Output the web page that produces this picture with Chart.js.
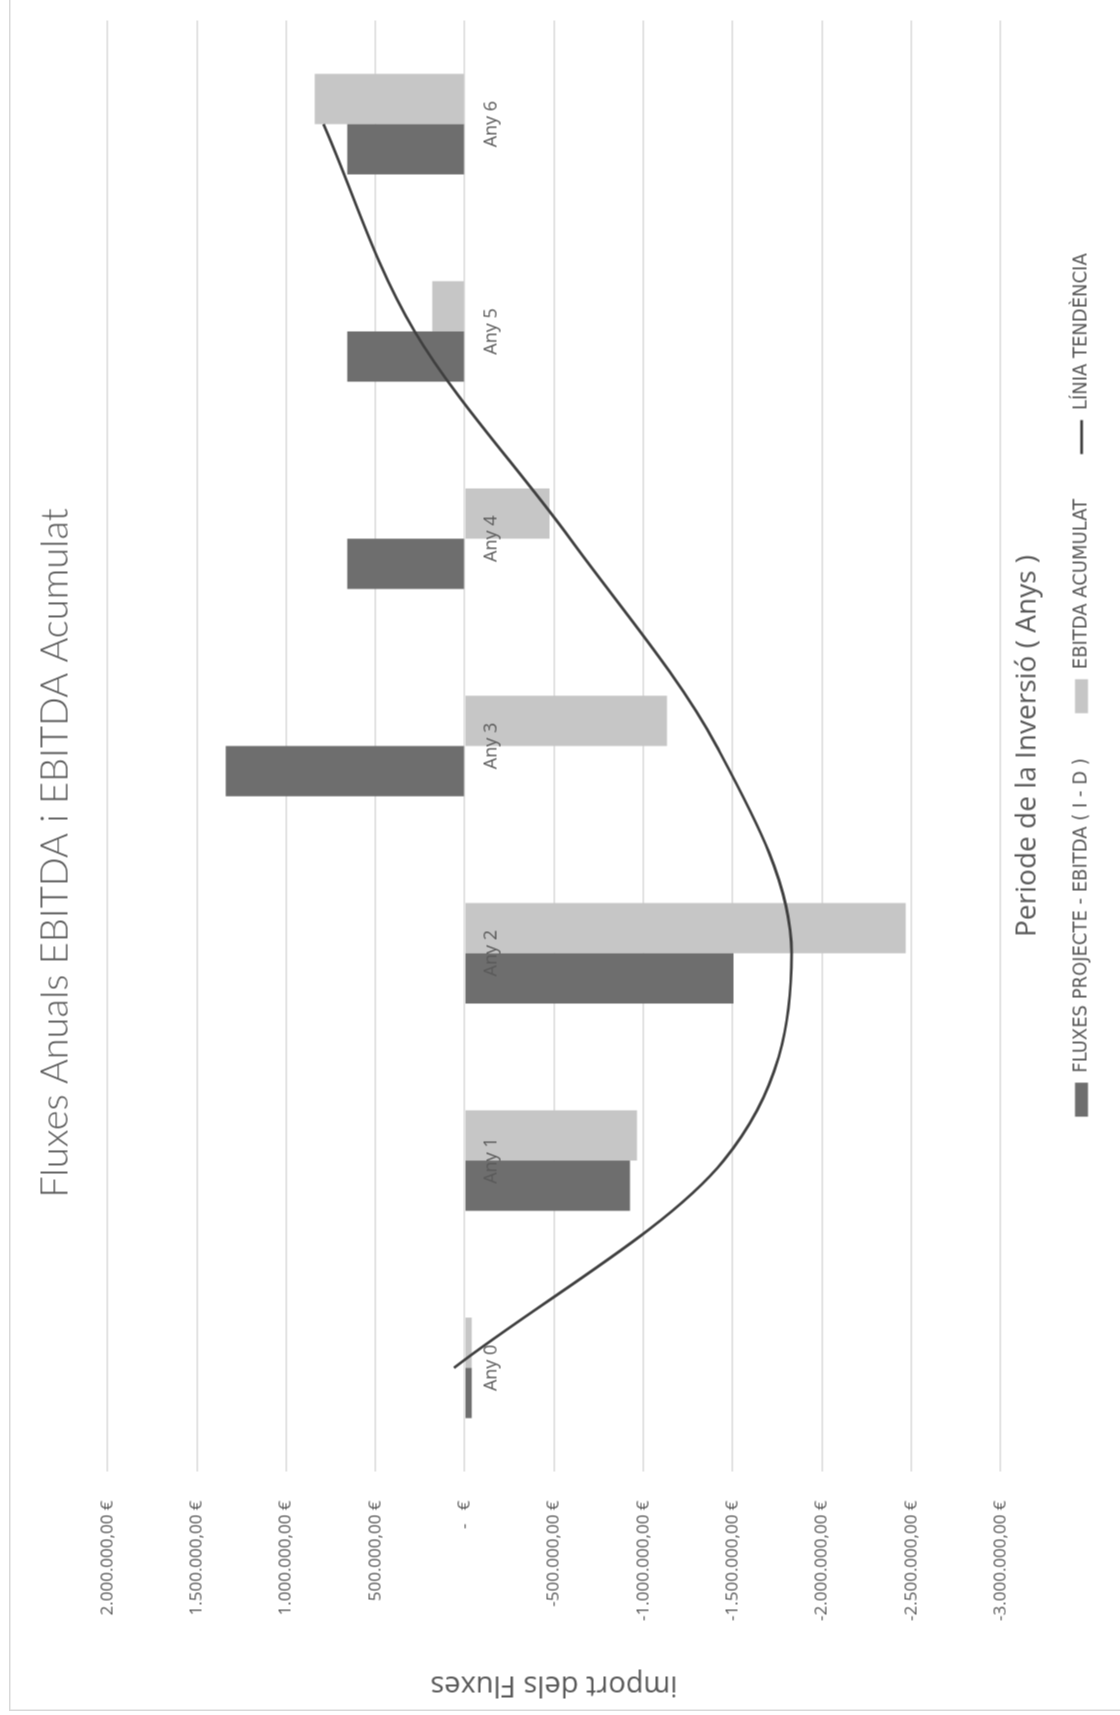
<!DOCTYPE html>
<html lang="ca">
<head>
<meta charset="utf-8">
<title>Fluxes Anuals EBITDA i EBITDA Acumulat</title>
<script src="https://cdn.jsdelivr.net/npm/chart.js@4/dist/chart.umd.min.js"></script>
<style>
  html, body { margin: 0; padding: 0; background: #fff; width: 1120px; height: 1715px; overflow: hidden; }
  /* the chart is laid out landscape and turned a quarter turn counter-clockwise */
  #frame { position: absolute; left: -297.5px; top: 297.5px; width: 1715px; height: 1120px;
           transform: rotate(-90deg); transform-origin: 50% 50%; background: #fff; }
  #frame canvas { position: absolute; left: 0; top: 0; }
  #edge { position: absolute; left: 4px; top: 8px; right: -20px; bottom: -20px;
          border-left: 2px solid #d9d9d9; border-top: 2px solid #d9d9d9; pointer-events: none; }
</style>
</head>
<body>
<div id="frame">
  <canvas id="chart" width="1715" height="1120"></canvas>
  <div id="edge"></div>
</div>
<script>
// Years of the investment period
const categories = ['Any 0', 'Any 1', 'Any 2', 'Any 3', 'Any 4', 'Any 5', 'Any 6'];

// Yearly project flows (I - D) and accumulated EBITDA, in euros
const fluxesProjecte = [-40000, -925000, -1505000, 1338000, 657000, 657000, 657000];
const ebitdaAcumulat = [-40000, -965000, -2470000, -1132000, -475000, 182000, 840000];

// Trend line of the accumulated EBITDA at each year
const trendValues = [60000, -1450000, -1830000, -1410000, -590000, 280000, 790000];

// Value axis range
const axisMin = -3000000;
const axisMax = 2000000;
const axisStep = 500000;

const TEXT = '#595959';
const SANS = "'Open Sans', 'Segoe UI', sans-serif";
const NARROW = "'Liberation Sans Narrow', 'DejaVu Sans Condensed', sans-serif";

function euro(v) {
  if (v === 0) return '-   €';
  const parts = Math.abs(v).toFixed(2).split('.');
  const whole = parts[0].replace(/\B(?=(\d{3})+(?!\d))/g, '.');
  return (v < 0 ? '-' : '') + whole + ',' + parts[1] + ' €';
}

// moves the legend row along the bottom edge
const legendShift = {
  id: 'legendShift',
  afterLayout(chart, args, opts) {
    const lg = chart.legend;
    if (!lg) return;
    lg.left += opts.dx;
    lg.right += opts.dx;
  }
};

new Chart(document.getElementById('chart'), {
  data: {
    labels: categories,
    datasets: [
      {
        type: 'bar',
        label: 'FLUXES PROJECTE - EBITDA ( I - D )',
        data: fluxesProjecte,
        backgroundColor: '#6e6e6e',
        borderWidth: 0,
        pointStyle: 'rect',
        categoryPercentage: 0.485,
        barPercentage: 1,
        order: 1
      },
      {
        type: 'bar',
        label: 'EBITDA ACUMULAT',
        data: ebitdaAcumulat,
        backgroundColor: '#c6c6c6',
        borderWidth: 0,
        pointStyle: 'rect',
        categoryPercentage: 0.485,
        barPercentage: 1,
        order: 1
      },
      {
        type: 'line',
        label: 'LÍNIA TENDÈNCIA',
        data: trendValues,
        borderColor: '#3f3f3f',
        backgroundColor: '#3f3f3f',
        borderWidth: 2.75,
        pointRadius: 0,
        pointStyle: 'line',
        cubicInterpolationMode: 'monotone',
        fill: false,
        order: 0
      }
    ]
  },
  options: {
    responsive: false,
    maintainAspectRatio: false,
    animation: false,
    events: [],
    layout: { padding: { top: 10, left: 30, right: 20, bottom: 19 } },
    scales: {
      // year names written just under the zero line
      x: {
        type: 'category',
        offset: true,
        position: { y: 0 },
        grid: { display: false, drawTicks: false },
        border: { display: false },
        ticks: {
          z: 1,
          color: TEXT,
          font: { family: SANS, size: 18 },
          padding: 16,
          maxRotation: 0,
          autoSkip: false
        }
      },
      y: {
        type: 'linear',
        min: axisMin,
        max: axisMax,
        ticks: { stepSize: axisStep, callback: euro, color: TEXT, font: { family: SANS, size: 17 }, padding: 29 },
        grid: { color: '#d9d9d9', lineWidth: 1.5, drawTicks: false },
        border: { display: false },
        title: {
          display: true,
          text: 'import dels Fluxes',
          color: TEXT,
          font: { family: SANS, size: 29 },
          padding: { top: -16.4, bottom: 0 }
        },
        afterFit(scale) { scale.width = 214; }
      }
    },
    plugins: {
      tooltip: { enabled: false },
      title: {
        display: true,
        text: 'Fluxes Anuals EBITDA i EBITDA Acumulat',
        color: TEXT,
        font: { family: "Lato, 'Open Sans', sans-serif", size: 38, weight: '300' },
        padding: { top: 22.2, bottom: 29.2 }
      },
      subtitle: {
        display: true,
        position: 'bottom',
        fullSize: false,
        weight: 500,
        text: 'Periode de la Inversió ( Anys )',
        color: TEXT,
        font: { family: SANS, size: 28, weight: 'normal' },
        padding: { top: 10.2, bottom: -17.8 }
      },
      legend: {
        position: 'bottom',
        fullSize: false,
        labels: {
          usePointStyle: true,
          pointStyleWidth: 34,
          boxHeight: 13,
          padding: 45,
          color: TEXT,
          font: { family: NARROW, size: 20 },
          sort: (a, b) => a.datasetIndex - b.datasetIndex
        }
      },
      legendShift: { dx: 61 }
    }
  },
  plugins: [legendShift]
});
</script>
</body>
</html>
